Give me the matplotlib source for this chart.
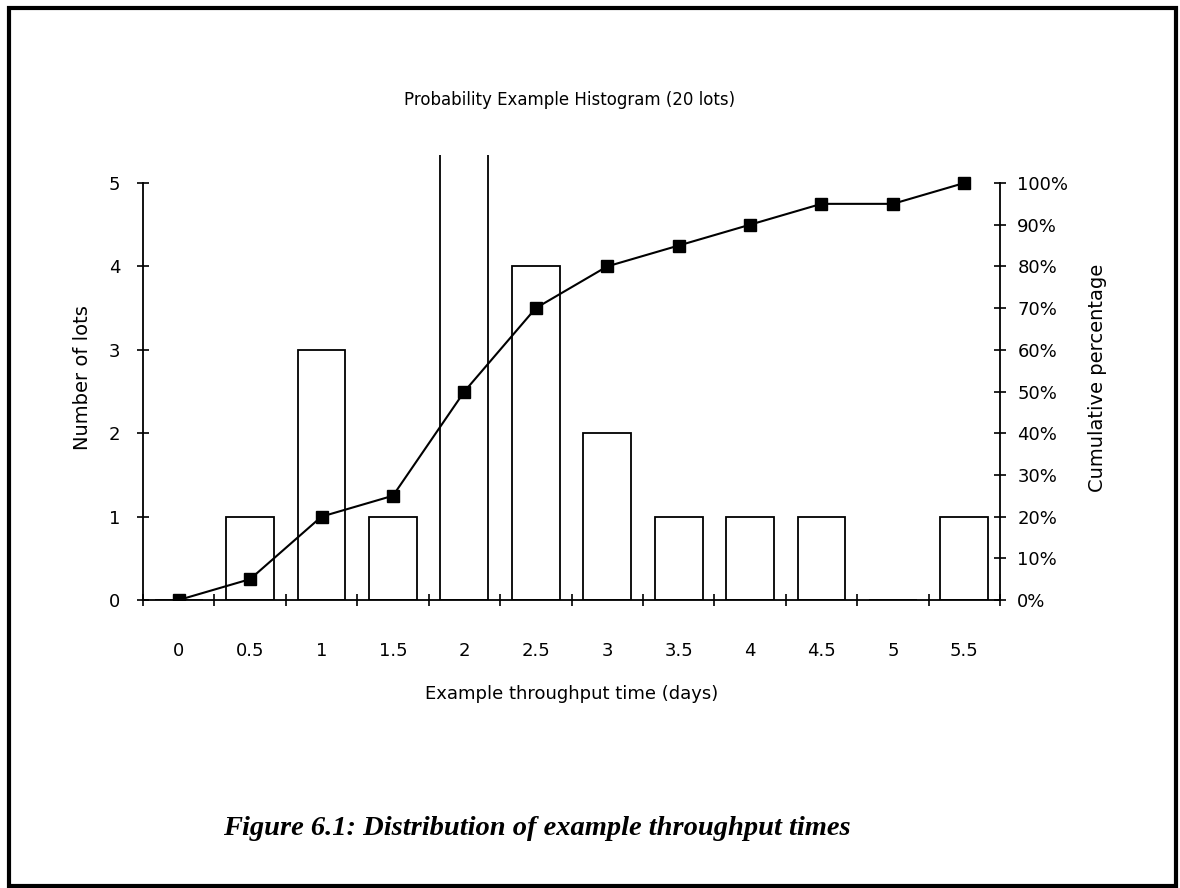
import numpy as np
import matplotlib.pyplot as plt
from matplotlib.patches import Rectangle

# Données
categories = ["0", "0.5", "1", "1.5", "2", "2.5", "3", "3.5", "4", "4.5", "5", "5.5"]
nb_lots = [0, 1, 3, 1, 5, 4, 2, 1, 1, 1, 0, 1]
cumul_pct = [0, 5, 20, 25, 50, 70, 80, 85, 90, 95, 95, 100]

police = "DejaVu Sans"
W, H = 1180, 888
fig = plt.figure(figsize=(W / 100, H / 100), dpi=100)

# Zone de tracé en pixels : gauche 143, droite 1000, haut 155, bas 600
ax = fig.add_axes([143 / W, 1 - 600 / H, (1000 - 143) / W, (600 - 155) / H])
y_haut = (600 - 155) / ((600 - 183) / 5)
x = np.arange(len(categories))

# Les barres qui atteignent le max de l'axe sortent du cadre (sans bord haut)
hauteurs = [n if n < 5 else y_haut + 1 for n in nb_lots]
ax.bar(x, hauteurs, width=0.67, facecolor="white", edgecolor="black", linewidth=1.3, zorder=2)
ax.set_xlim(-0.5, len(categories) - 0.5)
ax.set_ylim(0, y_haut)

for s in ["top", "right"]:
    ax.spines[s].set_visible(False)
ax.spines["left"].set_bounds(0, 5)
ax.spines["left"].set_linewidth(1.3)
ax.spines["bottom"].set_linewidth(1.3)

ax.set_yticks(range(6))
ax.tick_params(axis="y", direction="inout", length=9, width=1.2, labelsize=13, pad=12)
ax.set_xticks(x)
ax.set_xticklabels(categories)
ax.tick_params(axis="x", which="major", length=0, labelsize=13, pad=30)
ax.set_xticks(np.arange(-0.5, len(categories), 1), minor=True)
ax.tick_params(axis="x", which="minor", direction="inout", length=9, width=1.2)
for lab in ax.get_xticklabels() + ax.get_yticklabels():
    lab.set_family(police)

ax.set_ylabel("Number of lots", fontsize=14, family=police, labelpad=12)
ax.set_xlabel("Example throughput time (days)", fontsize=13, family=police, labelpad=18)

# Axe secondaire : pourcentage cumulé
ax2 = ax.twinx()
ax2.plot(x, cumul_pct, color="black", linewidth=1.5, marker="s", markersize=8, zorder=3)
ax2.set_ylim(0, y_haut / 5 * 100)
for s in ["top", "left", "bottom"]:
    ax2.spines[s].set_visible(False)
ax2.spines["right"].set_bounds(0, 100)
ax2.spines["right"].set_linewidth(1.3)
ax2.set_yticks(range(0, 101, 10))
ax2.set_yticklabels([f"{v}%" for v in range(0, 101, 10)])
ax2.tick_params(axis="y", direction="inout", length=9, width=1.2, labelsize=13, pad=8)
for lab in ax2.get_yticklabels():
    lab.set_family(police)
ax2.set_ylabel("Cumulative percentage", fontsize=14, family=police, labelpad=14)

fig.text(570 / W, 1 - 100 / H, "Probability Example Histogram (20 lots)",
         ha="center", va="center", fontsize=12, family=police)
fig.text(537 / W, 1 - 828 / H, "Figure 6.1: Distribution of example throughput times",
         ha="center", va="center", fontsize=20.5, family="Liberation Serif",
         weight="bold", style="italic")

# Cadre autour de la figure
fig.patches.append(Rectangle((9 / W, 2 / H), (1176 - 9) / W, (880 - 2) / H,
                             transform=fig.transFigure, fill=False,
                             edgecolor="black", linewidth=3))

fig.savefig("out.png", dpi=100)
